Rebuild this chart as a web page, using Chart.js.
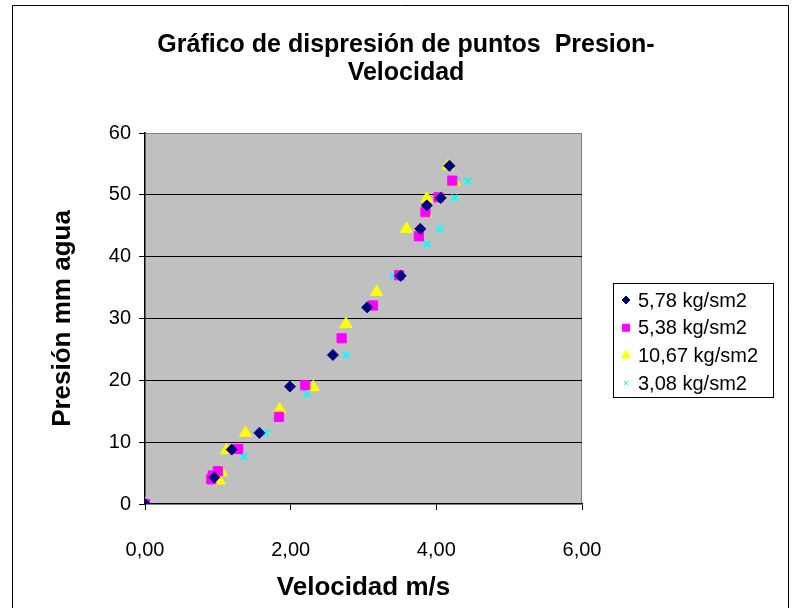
<!DOCTYPE html>
<html>
<head>
<meta charset="utf-8">
<script src="https://cdn.jsdelivr.net/npm/chart.js@4"></script>
<style>
  body { margin: 0; background: #fff; }
  #wrap { width: 800px; height: 608px; }
</style>
</head>
<body>
<div id="wrap"><canvas id="myChart" width="800" height="608"></canvas></div>
<script>
// series names
let seriesNames = ['5,78 kg/sm2', '5,38 kg/sm2', '10,67 kg/sm2', '3,08 kg/sm2'];

// velocidad (m/s) and presion (mm agua) per series
let vel1 = [0, 0.95, 1.19, 1.57, 1.99, 2.58, 3.05, 3.51, 3.78, 3.87, 4.06, 4.18];
let pre1 = [0, 4.3, 8.8, 11.5, 19.0, 24.1, 31.8, 36.9, 44.5, 48.3, 49.5, 54.7];

let vel2 = [0, 0.91, 0.93, 1.00, 1.28, 1.84, 2.20, 2.70, 3.13, 3.49, 3.76, 3.85, 4.03, 4.22];
let pre2 = [0, 4.0, 4.6, 5.3, 8.9, 14.1, 19.2, 26.8, 32.1, 37.0, 43.3, 47.2, 49.6, 52.3];

let vel3 = [0, 1.02, 1.05, 1.12, 1.38, 1.85, 2.31, 2.76, 3.18, 3.59, 3.86, 3.87, 4.16, 4.25];
let pre3 = [0, 3.8, 5.1, 8.7, 11.5, 15.3, 18.9, 29.1, 34.3, 44.5, 47.0, 49.4, 54.7, 52.1];

let vel4 = [0, 0.94, 1.02, 1.35, 1.66, 2.22, 2.76, 3.05, 3.41, 3.87, 4.05, 4.25, 4.28, 4.43];
let pre4 = [0, 3.8, 5.1, 7.7, 11.5, 17.8, 24.1, 31.8, 36.9, 42.0, 44.5, 49.5, 52.2, 52.2];

let xTicks = [0, 2, 4, 6];
let yTicks = [0, 10, 20, 30, 40, 50, 60];

function pts(xs, ys) {
    return xs.map(function(x, i) { return { x: x, y: ys[i] }; });
}
function coma(v) {
    return v.toFixed(2).replace('.', ',');
}

let styles = [
    { pointStyle: 'rectRot', color: '#000080', radius: 5.5, border: 1, leg: 4 },
    { pointStyle: 'rect', color: '#ff00ff', radius: 6.5, border: 1, leg: 5 },
    { pointStyle: 'triangle', color: '#ffff00', radius: 7, border: 1, leg: 5 },
    { pointStyle: 'crossRot', color: '#00ffff', radius: 4.5, border: 2, leg: 3 }
];
let allData = [pts(vel1, pre1), pts(vel2, pre2), pts(vel3, pre3), pts(vel4, pre4)];

let datasets = seriesNames.map(function(name, i) {
    let s = styles[i];
    return {
        label: name,
        data: allData[i],
        pointStyle: s.pointStyle,
        pointRadius: s.radius,
        pointHoverRadius: s.radius,
        backgroundColor: s.color,
        borderColor: s.color,
        pointBorderWidth: s.border
    };
});

const FONT = '"Liberation Sans", Arial, sans-serif';

// gray plot area, outer frame, title and legend
let decor = {
    id: 'decor',
    beforeDraw: function(chart) {
        let c = chart.ctx, a = chart.chartArea;
        c.save();
        c.fillStyle = '#ffffff';
        c.fillRect(0, 0, chart.width, chart.height);
        c.fillStyle = '#c0c0c0';
        c.fillRect(a.left, a.top, a.right - a.left, a.bottom - a.top);
        c.strokeStyle = '#808080';
        c.lineWidth = 1;
        c.beginPath();
        c.moveTo(a.left, a.top + 0.5);
        c.lineTo(a.right - 0.5, a.top + 0.5);
        c.lineTo(a.right - 0.5, a.bottom);
        c.stroke();
        c.restore();
    },
    afterDraw: function(chart) {
        let c = chart.ctx;
        c.save();
        c.strokeStyle = '#000';
        c.lineWidth = 1;
        c.beginPath();
        c.moveTo(12.5, 608);
        c.lineTo(12.5, 5.5);
        c.lineTo(788.5, 5.5);
        c.lineTo(788.5, 608);
        c.stroke();

        c.fillStyle = '#000';
        c.font = 'bold 25px ' + FONT;
        c.textAlign = 'center';
        c.textBaseline = 'middle';
        c.fillText('Gráfico de dispresión de puntos  Presion-', 406, 45);
        c.fillText('Velocidad', 406, 73);

        // legend
        c.strokeRect(613.5, 283.5, 160, 114);
        c.font = '20px ' + FONT;
        c.textAlign = 'left';
        chart.data.datasets.forEach(function(ds, i) {
            let y = 300 + i * 27.7;
            let s = styles[i];
            c.fillStyle = '#000';
            c.fillText(ds.label, 638, y + 1);
            c.fillStyle = s.color;
            c.strokeStyle = s.color;
            Chart.helpers.drawPoint(c, {
                pointStyle: s.pointStyle,
                radius: s.leg,
                rotation: 0,
                borderWidth: s.border
            }, 626, y);
        });
        c.restore();
    }
};

let myScatter = document.getElementById('myChart').getContext('2d');

let chart1 = new Chart(myScatter, {
    type: 'scatter',
    data: { datasets: datasets },
    options: {
        responsive: false,
        animation: false,
        layout: { padding: { left: 0, right: 218, top: 133, bottom: 0 } },
        plugins: {
            legend: { display: false },
            title: { display: false },
            tooltip: { enabled: false }
        },
        scales: {
            x: {
                type: 'linear',
                min: 0,
                max: 6,
                afterBuildTicks: function(scale) {
                    scale.ticks = xTicks.map(function(v) { return { value: v }; });
                },
                afterFit: function(scale) {
                    scale.height = 104;
                    scale.paddingLeft = 0;
                    scale.paddingRight = 0;
                },
                grid: { drawOnChartArea: false, drawTicks: true, tickLength: 6, color: '#000' },
                border: { color: '#000', width: 1.5 },
                ticks: {
                    color: '#000',
                    padding: 28,
                    maxRotation: 0,
                    font: { family: FONT, size: 20 },
                    callback: function(v) { return coma(v); }
                },
                title: {
                    display: true,
                    text: 'Velocidad m/s',
                    color: '#000',
                    padding: { top: 0, bottom: 5 },
                    font: { family: FONT, size: 26, weight: 'bold' }
                }
            },
            y: {
                type: 'linear',
                min: 0,
                max: 60,
                afterBuildTicks: function(scale) {
                    scale.ticks = yTicks.map(function(v) { return { value: v }; });
                },
                afterFit: function(scale) {
                    scale.width = 145;
                    scale.paddingTop = 0;
                    scale.paddingBottom = 0;
                },
                grid: {
                    drawTicks: true,
                    tickLength: 6,
                    tickColor: '#000',
                    color: function(ctx) {
                        if (ctx.tick && (ctx.tick.value === 60 || ctx.tick.value === 0)) return 'rgba(0,0,0,0)';
                        return '#000';
                    }
                },
                border: { color: '#000', width: 1.5 },
                ticks: {
                    color: '#000',
                    padding: 8,
                    font: { family: FONT, size: 20 }
                },
                title: {
                    display: true,
                    text: 'Presión mm agua',
                    color: '#000',
                    padding: { top: 47, bottom: 0 },
                    font: { family: FONT, size: 26, weight: 'bold' }
                }
            }
        }
    },
    plugins: [decor]
});
</script>
</body>
</html>
